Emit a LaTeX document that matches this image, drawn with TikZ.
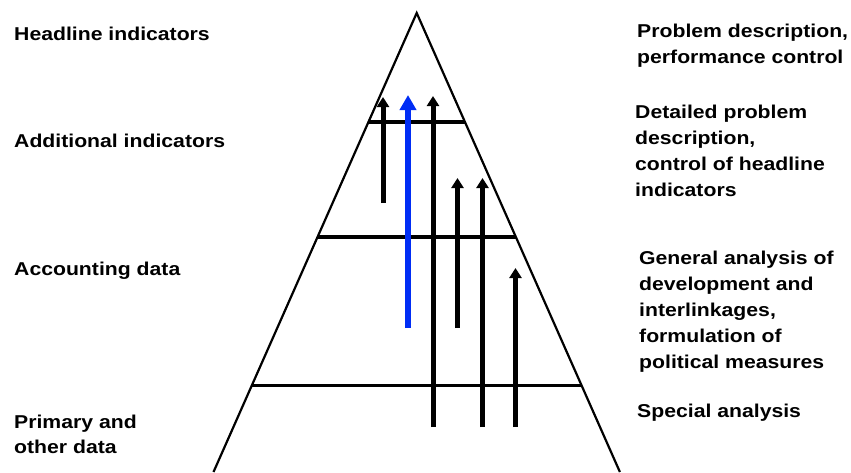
\documentclass[tikz,border=0pt]{standalone}
\usepackage{fontspec}
\setmainfont{Liberation Sans}[FakeStretch=1.14]
\usetikzlibrary{arrows.meta}
\definecolor{arrowblue}{RGB}{0,45,245}
\begin{document}
\begin{tikzpicture}[x=1pt,y=-1pt,
  lab/.style={anchor=base west,inner sep=0pt,align=left,
    font=\fontsize{18.6}{26}\selectfont\bfseries},
  edge/.style={line width=2.2pt},
  level/.style={line width=3.4pt},
  uparrow/.style={line width=5pt,-{Triangle[length=10pt,width=12pt]}},
  bluearrow/.style={line width=6.5pt,color=arrowblue,-{Triangle[length=15pt,width=16pt]}}]
\useasboundingbox (0,0) rectangle (851,472);
% triangle
\coordinate (apex) at (416.7,13);
\coordinate (bl) at (213.5,472);
\coordinate (br) at (619.9,472);
\draw[edge,line join=miter] (bl) -- (apex) -- (br);
% levels
\coordinate (l1a) at (368.4,122);  \coordinate (l1b) at (465.0,122);
\coordinate (l2a) at (317.5,237);  \coordinate (l2b) at (515.9,237);
\coordinate (l3a) at (251.7,385.7);\coordinate (l3b) at (581.7,385.7);
\draw[level] (l1a) -- (l1b);
\draw[level] (l2a) -- (l2b);
\draw[level] (l3a) -- (l3b);
% arrows
\coordinate (a1s) at (383,203); \coordinate (a1t) at (383,97);
\coordinate (a2s) at (408,328); \coordinate (a2t) at (408,95);
\coordinate (a3s) at (433,427); \coordinate (a3t) at (433,96);
\coordinate (a4s) at (457.5,328); \coordinate (a4t) at (457.5,178);
\coordinate (a5s) at (482.5,427); \coordinate (a5t) at (482.5,178);
\coordinate (a6s) at (515.5,427); \coordinate (a6t) at (515.5,268);
\draw[uparrow] (a1s) -- (a1t);
\draw[bluearrow] (a2s) -- (a2t);
\draw[uparrow] (a3s) -- (a3t);
\draw[uparrow] (a4s) -- (a4t);
\draw[uparrow] (a5s) -- (a5t);
\draw[uparrow] (a6s) -- (a6t);
% left labels (anchor = baseline of last line)
\node[lab] (headline) at (14,40.7) {Headline indicators};
\node[lab] (additional) at (14,147) {Additional indicators};
\node[lab] (accounting) at (14,275) {Accounting data};
\node[lab,font=\fontsize{18.6}{25}\selectfont\bfseries] (primary) at (14,453) {Primary and\\other data};
% right labels
\node[lab] (problem) at (637,63.3) {Problem description,\\performance control};
\node[lab] (detailed) at (635,196.5) {Detailed problem\\description,\\control of headline\\indicators};
\node[lab] (general) at (639,368) {General analysis of\\development and\\interlinkages,\\formulation of\\political measures};
\node[lab] (special) at (637,417.3) {Special analysis};
\end{tikzpicture}
\end{document}
